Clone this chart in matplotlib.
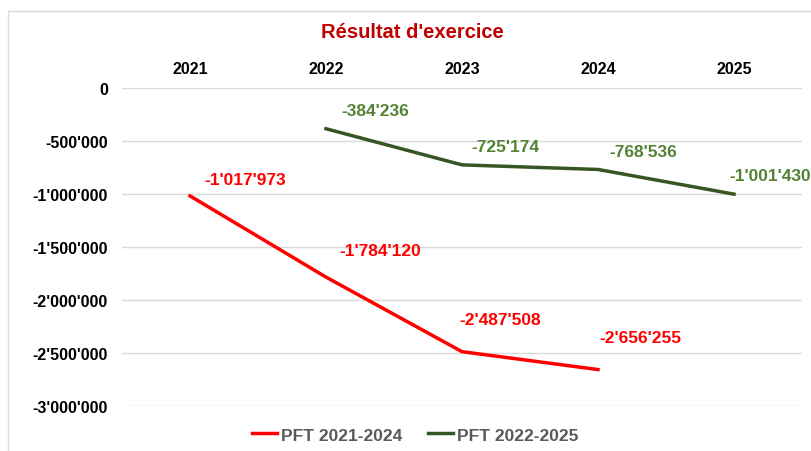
import matplotlib.pyplot as plt
from matplotlib.ticker import FuncFormatter, MultipleLocator
from matplotlib.patches import Rectangle

plt.rcParams['font.family'] = ['Liberation Sans', 'DejaVu Sans']

years = ['2021', '2022', '2023', '2024', '2025']
pft_2124 = [-1017973, -1784120, -2487508, -2656255]
pft_2225 = [-384236, -725174, -768536, -1001430]

# label offsets in pixels (dx, dy) relative to the point
red_off = [(55, 16), (54, 27), (38, 32), (42, 32)]
green_off = [(49, 18), (43, 18), (45, 18), (36, 19)]

RED = '#ff0000'
GREEN = '#375623'
GREEN_TXT = '#548235'


def fmt(v, pos=None):
    s = f"{abs(int(v)):,}".replace(',', "'")
    return ('-' if v < 0 else '') + s


fig = plt.figure(figsize=(8.11, 4.52), dpi=100)
ax = fig.add_axes([122 / 811, 1 - 407 / 452, 680 / 811, 318 / 452])

fig.patches.append(Rectangle((8 / 811, -0.05), 1.2, 1 - 12 / 452 + 0.05, transform=fig.transFigure,
                             fill=False, edgecolor='#d9d9d9', linewidth=1))

x_red = list(range(len(pft_2124)))
x_green = list(range(1, 1 + len(pft_2225)))
ax.plot(x_red, pft_2124, color=RED, lw=2.5, label='PFT 2021-2024')
ax.plot(x_green, pft_2225, color=GREEN, lw=2.5, label='PFT 2022-2025')

for x, v, (dx, dy) in zip(x_red, pft_2124, red_off):
    ax.annotate(fmt(v), (x, v), xytext=(dx * 0.72, dy * 0.72), textcoords='offset points',
                ha='center', va='center', color=RED, fontsize=12.5, fontweight='bold')
for x, v, (dx, dy) in zip(x_green, pft_2225, green_off):
    ax.annotate(fmt(v), (x, v), xytext=(dx * 0.72, dy * 0.72), textcoords='offset points',
                ha='center', va='center', color=GREEN_TXT, fontsize=12.5, fontweight='bold',
                annotation_clip=False)

ax.set_xlim(-0.5, 4.5)
ax.set_ylim(-3000000, 0)
ax.set_xticks(range(len(years)))
ax.set_xticklabels(years)
ax.xaxis.tick_top()
ax.yaxis.set_major_locator(MultipleLocator(500000))
ax.yaxis.set_major_formatter(FuncFormatter(fmt))
ax.tick_params(length=0, labelsize=11.5)
ax.tick_params(axis='x', pad=9)
ax.tick_params(axis='y', pad=10)
for lab in ax.get_xticklabels() + ax.get_yticklabels():
    lab.set_fontweight('bold')
ax.grid(axis='y', color='#d9d9d9', lw=1)
ax.set_axisbelow(True)
for s in ax.spines.values():
    s.set_visible(False)

fig.text(412 / 811, 1 - 33 / 452, "Résultat d'exercice", ha='center', va='center',
         color='#c00000', fontsize=14.5, fontweight='bold')

leg = fig.legend(loc='center', bbox_to_anchor=(415 / 811, 1 - 436 / 452), ncol=2, frameon=False,
                 handlelength=1.45, handletextpad=0.25, columnspacing=1.45,
                 prop={'weight': 'bold', 'size': 12.5})
for t in leg.get_texts():
    t.set_color('#595959')

fig.savefig('out.png', dpi=100)
